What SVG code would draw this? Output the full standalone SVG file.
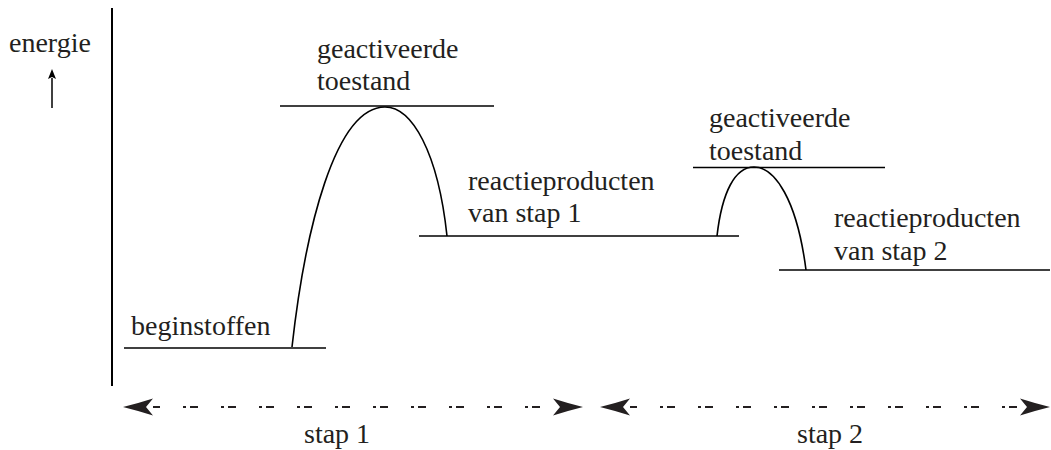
<svg xmlns="http://www.w3.org/2000/svg" width="1051" height="450" viewBox="0 0 1051 450">
<style>
  text { font-family: "Liberation Serif", "DejaVu Serif", "Noto Serif", serif; font-size: 28px; fill: #231f20; }
  .lvl { stroke: #000; stroke-width: 1.6; fill: none; }
  .curve { stroke: #000; stroke-width: 1.6; fill: none; }
  .axis { stroke: #000; stroke-width: 2; fill: none; }
  .span { stroke: #231f20; stroke-width: 2.2; fill: none; stroke-dasharray: 3 4 8 23; stroke-dashoffset: 8; }
</style>
<defs>
  <marker id="stealth" viewBox="0 0 32 18" refX="2" refY="9" markerWidth="32" markerHeight="18" markerUnits="userSpaceOnUse" orient="auto-start-reverse">
    <path d="M32,9 Q16,5 2,0.5 L9,9 L2,17.5 Q16,13 32,9 Z" fill="#231f20"/>
  </marker>
  <marker id="small" viewBox="0 0 10 8" refX="1" refY="4" markerWidth="10" markerHeight="8" markerUnits="userSpaceOnUse" orient="auto">
    <path d="M0,0 L10,4 L0,8 L2,4 Z" fill="#000"/>
  </marker>
</defs>
<g id="axis">
  <line class="axis" x1="112" y1="8" x2="112" y2="386"/>
  <text x="9" y="52">energie</text>
  <line x1="52" y1="108" x2="52" y2="78" stroke="#000" stroke-width="1.5" marker-end="url(#small)"/>
</g>
<g id="beginstoffen">
  <line class="lvl" x1="124" y1="348" x2="326" y2="348"/>
  <text x="131" y="335">beginstoffen</text>
</g>
<g id="geactiveerde-toestand-1">
  <line class="lvl" x1="280" y1="106" x2="494" y2="106"/>
  <text x="317" y="58">geactiveerde</text>
  <text x="317" y="90">toestand</text>
</g>
<g id="reactieproducten-1">
  <line class="lvl" x1="419" y1="236" x2="739" y2="236"/>
  <text x="468" y="190">reactieproducten</text>
  <text x="468" y="222">van stap 1</text>
</g>
<g id="geactiveerde-toestand-2">
  <line class="lvl" x1="693" y1="167.5" x2="885" y2="167.5"/>
  <text x="709" y="127">geactiveerde</text>
  <text x="709" y="160">toestand</text>
</g>
<g id="reactieproducten-2">
  <line class="lvl" x1="779" y1="270" x2="1050" y2="270"/>
  <text x="834" y="227">reactieproducten</text>
  <text x="834" y="260">van stap 2</text>
</g>
<g id="connectors">
  <path class="curve" d="M292,347 C305,230 335,107 385,107 C412,107 438,152 447,236"/>
  <path class="curve" d="M717,236 C722,192 735,167 754,167 C775,167 797,200 806,270"/>
  <line class="span" x1="153" y1="407" x2="553" y2="407" marker-start="url(#stealth)" marker-end="url(#stealth)"/>
  <line class="span" x1="630" y1="407" x2="1020" y2="407" marker-start="url(#stealth)" marker-end="url(#stealth)"/>
</g>
<g id="labels">
  <text x="304" y="443">stap 1</text>
  <text x="797" y="443">stap 2</text>
</g>
</svg>
